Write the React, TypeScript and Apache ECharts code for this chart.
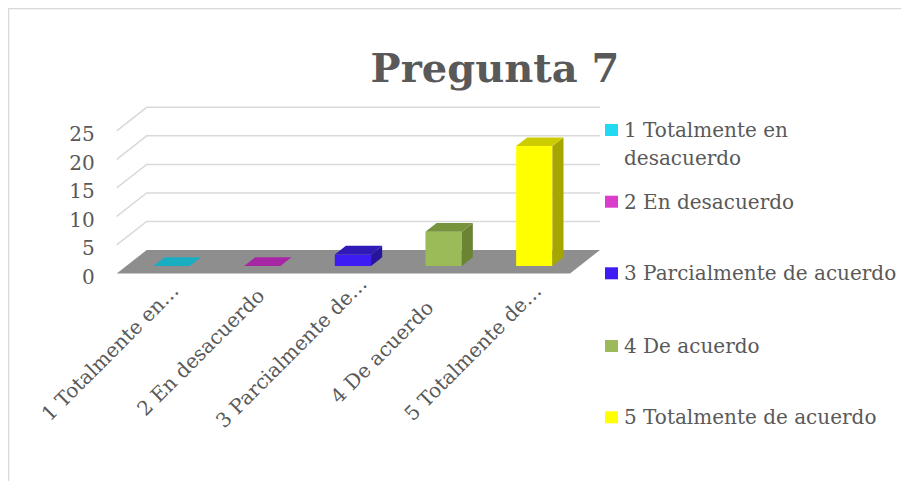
import React, { useEffect, useRef } from "react";
import * as echarts from "echarts";

const chartTitle = "Pregunta 7";
const categories = [
  "1 Totalmente en desacuerdo",
  "2 En desacuerdo",
  "3 Parcialmente de acuerdo",
  "4 De acuerdo",
  "5 Totalmente de acuerdo",
];
const tickLabels = [
  "1 Totalmente en…",
  "2 En desacuerdo",
  "3 Parcialmente de…",
  "4 De acuerdo",
  "5 Totalmente de…",
];
const values = [0, 0, 2, 6, 21];
const yTicks = [0, 5, 10, 15, 20, 25];

const FRONT = ["#21d9f2", "#dc3ccc", "#3c1cf2", "#9bbb59", "#ffff00"];
const TOP = ["#19adc2", "#a726a3", "#2f1ab8", "#77933c", "#cccc00"];
const SIDE = ["#128a9b", "#86207f", "#26159a", "#6a8434", "#a6a600"];

const FONT = "'DejaVu Serif', serif";
const TXT = "#595959";
const DX = 30;
const DY = -23.5;
const T0 = 0.32;
const T1 = 0.69;

export default function App() {
  const ref = useRef<HTMLDivElement>(null);
  useEffect(() => {
    if (!ref.current) return;
    document.body.style.marginBottom = "0";
    document.body.style.overflow = "hidden";
    const chart = echarts.init(ref.current, null, { renderer: "svg" });

    const legendY = [122, 193.7, 265.3, 338, 409.3];
    const legendGraphics: any[] = [];
    categories.forEach((c, i) => {
      legendGraphics.push({
        type: "rect",
        shape: { x: 597, y: legendY[i] - 6, width: 13, height: 12 },
        style: { fill: FRONT[i] },
      });
      legendGraphics.push({
        type: "text",
        x: 616,
        y: legendY[i] - 14,
        style: {
          text: c,
          fill: TXT,
          font: `20px ${FONT}`,
          width: 279,
          overflow: "break",
          lineHeight: 28,
          verticalAlign: "top",
          align: "left",
        },
      });
    });

    const option: any = {
      animation: false,
      graphic: [
        {
          type: "rect",
          shape: { x: 0.5, y: 0.5, width: 2000, height: 2000 },
          style: { fill: "none", stroke: "#d9d9d9", lineWidth: 1.5 },
          silent: true,
        },
        {
          type: "text",
          x: 487,
          y: 59,
          style: {
            text: chartTitle,
            fill: TXT,
            font: `bold 40px ${FONT}`,
            align: "center",
            verticalAlign: "middle",
          },
        },
        ...legendGraphics,
      ],
      grid: [
        { left: 108.7, width: 453.3, top: 122.8, height: 142.7 },
        { left: 56.7, width: 453.3, top: 200, height: 100 },
      ],
      xAxis: [
        {
          type: "category",
          gridIndex: 0,
          data: categories,
          axisLine: { show: false },
          axisTick: { show: false },
          axisLabel: { show: false },
          splitLine: { show: false },
        },
        {
          type: "category",
          gridIndex: 1,
          data: tickLabels,
          axisLine: { show: false },
          axisTick: { show: false },
          splitLine: { show: false },
          axisLabel: {
            interval: 0,
            rotate: 45,
            align: "center",
            verticalAlign: "middle",
            margin: 44,
            color: TXT,
            fontFamily: FONT,
            fontSize: 20,
          },
        },
      ],
      yAxis: [
        {
          type: "value",
          gridIndex: 0,
          min: 0,
          max: 25,
          interval: 5,
          axisLine: { show: false },
          axisTick: { show: false },
          splitLine: { show: false },
          axisLabel: {
            margin: 22,
            color: TXT,
            fontFamily: FONT,
            fontSize: 20,
            verticalAlign: "top",
            lineHeight: 7,
          },
        },
        {
          type: "value",
          gridIndex: 1,
          show: false,
        },
      ],
      series: [
        {
          type: "custom",
          xAxisIndex: 0,
          yAxisIndex: 0,
          z: 1,
          data: yTicks.map((v) => [0, v]),
          renderItem: (params: any, api: any) => {
            const cs = params.coordSys;
            const v = api.value(1);
            const y = api.coord([0, v])[1];
            const L = cs.x;
            const R = cs.x + cs.width;
            if (v === 0) {
              return {
                type: "polygon",
                shape: {
                  points: [
                    [L, y],
                    [R, y],
                    [R + DX, y + DY],
                    [L + DX, y + DY],
                  ],
                },
                style: { fill: "#8e8e8e" },
              };
            }
            return {
              type: "polyline",
              shape: {
                points: [
                  [L, y],
                  [L + DX, y + DY],
                  [R + DX, y + DY],
                ],
              },
              style: { fill: "none", stroke: "#d9d9d9", lineWidth: 1.5 },
            };
          },
        },
        {
          type: "custom",
          xAxisIndex: 0,
          yAxisIndex: 0,
          z: 3,
          data: values.map((v, i) => [i, v]),
          renderItem: (params: any, api: any) => {
            const i = api.value(0);
            const v = api.value(1);
            const base = api.coord([i, 0]);
            const bw = api.size([1, 0])[0];
            const h = api.size([0, v])[1];
            const w = bw * 0.4;
            const cx = base[0] + T0 * DX;
            const yb = base[1] + T0 * DY;
            const xl = cx - w / 2;
            const xr = cx + w / 2;
            const yt = yb - h;
            const ddx = (T1 - T0) * DX;
            const ddy = (T1 - T0) * DY;
            const children: any[] = [];
            if (h > 0.5) {
              children.push({
                type: "rect",
                shape: { x: xl, y: yt, width: w, height: h },
                style: { fill: FRONT[i] },
              });
              children.push({
                type: "polygon",
                shape: {
                  points: [
                    [xr, yb],
                    [xr, yt],
                    [xr + ddx, yt + ddy],
                    [xr + ddx, yb + ddy],
                  ],
                },
                style: { fill: SIDE[i] },
              });
            }
            children.push({
              type: "polygon",
              shape: {
                points: [
                  [xl, yt],
                  [xr, yt],
                  [xr + ddx, yt + ddy],
                  [xl + ddx, yt + ddy],
                ],
              },
              style: { fill: TOP[i] },
            });
            return { type: "group", children };
          },
        },
      ],
    };
    chart.setOption(option);
    return () => chart.dispose();
  }, []);
  return <div ref={ref} style={{ width: 893, height: 473 }} />;
}
